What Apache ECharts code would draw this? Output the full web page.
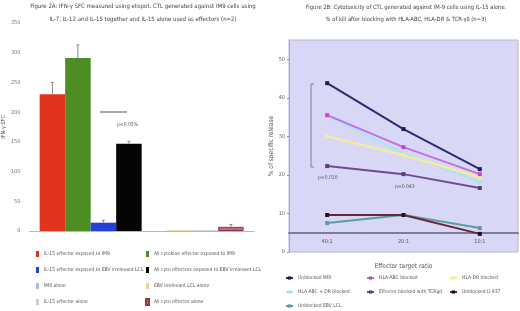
<!DOCTYPE html>
<html>
<head>
<meta charset="utf-8">
<script src="https://cdn.jsdelivr.net/npm/echarts@6/dist/echarts.min.js"></script>
<style>html,body{margin:0;padding:0;background:#fff;}#c{width:520px;height:311px;}</style>
</head>
<body>
<div id="c"></div>
<script>
// ---- Figure 2A data ----
const leftCategory = [''];
const leftSeriesNames = [
  'IL-15 effector exposed to IM9',
  'All cytokine effector exposed to IM9',
  'IL-15 effector exposed to EBV irrelevant LCL',
  'All cyto effectors exposed to EBV irrelevant LCL',
  'IM9 alone',
  'EBV irrelevant LCL alone',
  'IL-15 effector alone',
  'All cyto effector alone'
];
const leftValues = [230, 291, 14, 147, 0, 1.5, 1.5, 7];
const leftErrors = [20, 22, 4, 4, 0, 0, 0, 4];
const leftTicks = [0, 50, 100, 150, 200, 250, 300, 350];

// ---- Figure 2B data ----
const ratios = ['40:1', '20:1', '10:1'];
const rightSeriesNames = [
  'Unblocked IM9', 'HLA-ABC blocked', 'HLA-DR blocked',
  'HLA-ABC + DR blocked', 'Effector blocked with TCRgd', 'Unblocked U-937',
  'Unblocked EBV LCL'
];
const unblockedIM9 = [43.8, 31.9, 21.5];
const hlaABCBlocked = [35.5, 27.2, 20.2];
const hlaDRBlocked = [30.0, 25.1, 19.4];
const hlaABCDRBlocked = [35.3, 25.6, 18.1];
const tcrgdBlocked = [22.3, 20.2, 16.6];
const unblockedU937 = [9.6, 9.6, 4.7];
const unblockedEBVLCL = [7.5, 9.6, 6.2];
const rightTicks = [0, 10, 20, 30, 40, 50];

// ---- styles ----
const FONT = "'DejaVu Sans Condensed','Liberation Sans Narrow','Liberation Sans',sans-serif";
const leftColors = ['#e2341c', '#4e8c24', '#2340d8', '#050505', '#a9bedc', '#e8d49a', '#cfcfcf', '#c0687a'];
const leftBorders = [null, null, null, null, null, null, null, '#8a3a4a'];
const rightColors = ['#2c2c6c', '#c070d8', '#f4f08c', '#a6e6f2', '#6c4c8c', '#6a2636', '#5c9ca2'];
const rightSymbolColors = ['#1c1c4c', '#d040d0', '#f4f08c', '#a6e6f2', '#5c3c7c', '#201018', '#5c9ca2'];
const BAR_W = 25.5;

const chart = echarts.init(document.getElementById('c'), null, {renderer: 'canvas'});

const rightData = [unblockedIM9, hlaABCBlocked, hlaDRBlocked, hlaABCDRBlocked, tcrgdBlocked, unblockedU937, unblockedEBVLCL];
const rightOrder = [3, 2, 1, 4, 6, 5, 0];

const series = [];
leftSeriesNames.forEach((n, i) => {
  series.push({
    type: 'bar', name: n, xAxisIndex: 0, yAxisIndex: 0,
    barWidth: BAR_W, barGap: '0%',
    itemStyle: {color: leftColors[i], borderColor: leftBorders[i] || leftColors[i], borderWidth: leftBorders[i] ? 1 : 0},
    data: [leftValues[i]]
  });
});
series.push({
  type: 'custom', xAxisIndex: 0, yAxisIndex: 0, silent: true, z: 5,
  encode: {x: 0, y: 2},
  data: leftValues.map((v, i) => [0, i, v, leftErrors[i]]),
  renderItem: function (params, api) {
    const i = api.value(1), v = api.value(2), e = api.value(3);
    if (!e) return null;
    const b = api.coord([0, v]);
    const t = api.coord([0, v + e]);
    const x = b[0] + (i - 3.5) * BAR_W;
    const st = {stroke: '#8a8a8a', lineWidth: 1};
    return {type: 'group', children: [
      {type: 'line', shape: {x1: x, y1: b[1], x2: x, y2: t[1]}, style: st},
      {type: 'line', shape: {x1: x - 1.5, y1: t[1], x2: x + 1.5, y2: t[1]}, style: st}
    ]};
  }
});
rightOrder.forEach(i => {
  series.push({
    type: 'line', name: rightSeriesNames[i], xAxisIndex: 1, yAxisIndex: 1,
    data: rightData[i], symbol: 'rect', symbolSize: 4, showSymbol: true,
    lineStyle: {color: rightColors[i], width: 2},
    itemStyle: {color: rightSymbolColors[i]},
    z: 3
  });
});

const legTxtL = {fontFamily: FONT, fontSize: 5, color: '#555', lineHeight: 8};
const legTxtR = {fontFamily: FONT, fontSize: 5, color: '#555', lineHeight: 8};
const legBase = {orient: 'vertical', padding: 0, height: 80, selectedMode: false, itemGap: 8};

chart.setOption({
  animation: false,
  backgroundColor: '#ffffff',
  textStyle: {fontFamily: FONT},
  title: [
    {text: 'Figure 2A: IFN-\u03b3 SFC measured using elispot. CTL generated against IM9 cells using\nIL-7, IL-12 and IL-15 together and IL-15 alone used as effectors (n=2)',
     left: 143, top: 0, textAlign: 'center', padding: 0,
     textStyle: {fontFamily: FONT, fontSize: 6, fontWeight: 'normal', color: '#444', lineHeight: 13}},
    {text: 'Figure 2B: Cytotoxicity of CTL generated against IM-9 cells using IL-15 alone.\n% of kill after blocking with HLA-ABC, HLA-DR & TCR-\u03b3\u03b4 (n=3)',
     left: 406, top: 1, textAlign: 'center', padding: 0,
     textStyle: {fontFamily: FONT, fontSize: 5.8, fontWeight: 'normal', color: '#444', lineHeight: 12}}
  ],
  grid: [
    {left: 22, top: 23, width: 232, bottom: 80},
    {left: 289, top: 40, right: 2, bottom: 59, show: true, backgroundColor: '#d8d8f6', borderColor: '#b4b4d4', borderWidth: 1}
  ],
  xAxis: [
    {type: 'category', gridIndex: 0, data: leftCategory,
     axisLine: {lineStyle: {color: '#b8b8b8'}}, axisTick: {show: false}, axisLabel: {show: false}},
    {type: 'category', gridIndex: 1, data: ratios, offset: -19.5,
     axisLine: {lineStyle: {color: '#7c7c9c', width: 2}},
     axisTick: {show: true, length: 2, lineStyle: {color: '#8c8cac'}},
     axisLabel: {fontFamily: FONT, fontSize: 5.5, color: '#555', margin: 6},
     name: 'Effector target ratio', nameLocation: 'middle', nameGap: 30,
     nameTextStyle: {fontFamily: FONT, fontSize: 6.5, color: '#555'}}
  ],
  yAxis: [
    {type: 'value', gridIndex: 0, min: leftTicks[0], max: leftTicks[leftTicks.length - 1], interval: 50,
     axisLine: {show: false}, axisTick: {show: false}, splitLine: {show: false},
     axisLabel: {fontFamily: FONT, fontSize: 5.5, color: '#777', margin: 9},
     name: 'IFN-\u03b3 SFC', nameLocation: 'middle', nameGap: 16, nameRotate: 90,
     nameTextStyle: {fontFamily: FONT, fontSize: 5.5, color: '#555'}},
    {type: 'value', gridIndex: 1, min: rightTicks[0], max: 55, interval: 10,
     axisLine: {show: true, lineStyle: {color: '#a8a8c8'}},
     axisTick: {show: true, length: 2, lineStyle: {color: '#8c8cac'}},
     splitLine: {show: false},
     axisLabel: {fontFamily: FONT, fontSize: 5.5, color: '#666', margin: 4, showMaxLabel: false},
     name: '% of specific release', nameLocation: 'middle', nameGap: 14, nameRotate: 90,
     nameTextStyle: {fontFamily: FONT, fontSize: 6.5, color: '#555'}}
  ],
  legend: [
    Object.assign({}, legBase, {left: 36, top: 250, itemWidth: 3, itemHeight: 6, itemGap: 8, icon: 'rect', textStyle: legTxtL,
     data: [leftSeriesNames[0], leftSeriesNames[2], leftSeriesNames[4], leftSeriesNames[6]]}),
    Object.assign({}, legBase, {left: 145, top: 250, itemWidth: 3, itemHeight: 6, itemGap: 8, icon: 'rect', textStyle: legTxtL,
     data: [leftSeriesNames[1], leftSeriesNames[3], leftSeriesNames[5], leftSeriesNames[7]]}),
    Object.assign({}, legBase, {left: 285, top: 274, itemGap: 6, itemWidth: 7, itemHeight: 4, textStyle: legTxtR,
     data: [rightSeriesNames[0], rightSeriesNames[3], rightSeriesNames[6]]}),
    Object.assign({}, legBase, {left: 366, top: 274, itemGap: 6, itemWidth: 7, itemHeight: 4, textStyle: legTxtR,
     data: [rightSeriesNames[1], rightSeriesNames[4]]}),
    Object.assign({}, legBase, {left: 449, top: 274, itemGap: 6, itemWidth: 7, itemHeight: 4, textStyle: legTxtR,
     data: [rightSeriesNames[2], rightSeriesNames[5]]})
  ],
  graphic: [
    {type: 'line', shape: {x1: 100, y1: 112, x2: 127, y2: 112}, style: {stroke: '#555', lineWidth: 1}},
    {type: 'text', x: 117, y: 125, style: {text: 'p<0.05%', font: '5px ' + FONT, fill: '#555', verticalAlign: 'middle'}},
    {type: 'polyline', shape: {points: [[314, 84], [311, 84], [311, 167], [314, 167]]}, style: {stroke: '#7a7aa8', lineWidth: 1, fill: null}},
    {type: 'text', x: 318, y: 178, style: {text: 'p<0.010', font: '5px ' + FONT, fill: '#555', verticalAlign: 'middle'}},
    {type: 'text', x: 395, y: 187, style: {text: 'p=0.043', font: '5px ' + FONT, fill: '#555', verticalAlign: 'middle'}}
  ],
  series: series
});
</script>
</body>
</html>
